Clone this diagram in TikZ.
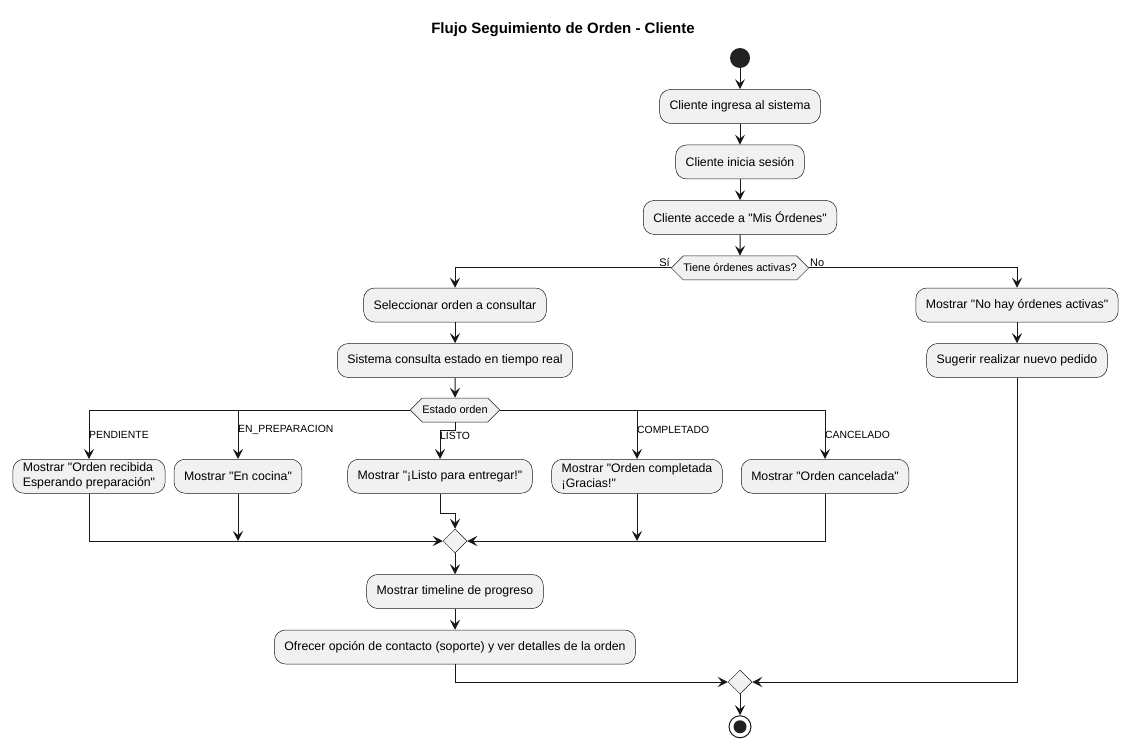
\documentclass[tikz,border=0pt]{standalone}
\usepackage{fontspec}
\setmainfont{Liberation Sans}[Ligatures=TeXOff]
\usetikzlibrary{arrows.meta,positioning,shapes.geometric,shapes.symbols}
\definecolor{boxfill}{HTML}{F1F1F1}
\definecolor{linecol}{HTML}{181818}
\definecolor{dotcol}{HTML}{222222}

\begin{document}
\begin{tikzpicture}[
        x=1pt, y=-1pt,
        node distance=21pt,
        act/.style={draw=linecol, line width=0.5pt, fill=boxfill, rounded corners=11pt,
            minimum height=34pt, inner xsep=10pt, align=left,
            font=\fontsize{12.3}{15}\selectfont},
        choice/.style={signal, signal to=east and west, draw=linecol, line width=0.5pt,
            fill=boxfill, minimum height=24pt, inner xsep=0pt, inner ysep=0pt,
            font=\fontsize{11}{13}\selectfont},
        merge/.style={diamond, draw=linecol, line width=0.5pt, fill=boxfill,
            minimum size=24pt, inner sep=0pt},
        flow/.style={draw=linecol, line width=1pt,
            -{Stealth[length=10pt,width=10pt,inset=4pt]}},
        lbl/.style={font=\fontsize{10.4}{12}\selectfont, inner sep=1pt}
    ]
    \useasboundingbox[fill=white] (0,0) rectangle (1127,746);

    \node[font=\bfseries\fontsize{15}{17}\selectfont] (titulo) at (563,30)
        {Flujo Seguimiento de Orden - Cliente};

    % tramo comun
    \node[circle, fill=dotcol, minimum size=20pt, inner sep=0pt] (inicio) at (740,58) {};
    \node[act, below=of inicio] (ingresa) {Cliente ingresa al sistema};
    \node[act, below=of ingresa] (sesion) {Cliente inicia sesión};
    \node[act, below=of sesion] (accede) {Cliente accede a "Mis Órdenes"};
    \node[choice, below=of accede] (activas) {Tiene órdenes activas?};

    % rama si
    \node[act] (selec) at (455,305) {Seleccionar orden a consultar};
    \node[act, below=of selec] (consulta) {Sistema consulta estado en tiempo real};
    \node[choice] (estado) at (455,410) {Estado orden};

    \node[act, anchor=north] (pend) at (89,459)
        {Mostrar "Orden recibida\\Esperando preparación"};
    \node[act, anchor=north] (cocina) at (238,459) {Mostrar "En cocina"};
    \node[act, anchor=north] (listo) at (440,459) {Mostrar "¡Listo para entregar!"};
    \node[act, anchor=north] (compl) at (637,459)
        {Mostrar "Orden completada\\¡Gracias!"};
    \node[act, anchor=north] (cancel) at (825,459) {Mostrar "Orden cancelada"};

    \node[merge] (union) at (455,541) {};
    \node[act, below=of union] (linea) {Mostrar timeline de progreso};
    \node[act, below=of linea] (contacto)
        {Ofrecer opción de contacto (soporte) y ver detalles de la orden};

    % rama no
    \node[act] (nohay) at (1017,305) {Mostrar "No hay órdenes activas"};
    \node[act, below=of nohay] (sugerir) {Sugerir realizar nuevo pedido};

    \node[merge] (final) at (740,682) {};
    \node[circle, draw=linecol, line width=1pt, fill=white, minimum size=22pt,
        inner sep=0pt, below=of final,
        path picture={\fill[dotcol] (path picture bounding box.center) circle (6.5pt);}]
        (fin) {};

    \coordinate (quiebre1) at (455,430);
    \coordinate (quiebre2) at (455,513);

    % conectores
    \draw[flow] (inicio) -- (ingresa);
    \draw[flow] (ingresa) -- (sesion);
    \draw[flow] (sesion) -- (accede);
    \draw[flow] (accede) -- (activas);
    \draw[flow] (activas.west) -| (selec);
    \draw[flow] (activas.east) -| (nohay);
    \node[lbl, font=\fontsize{11}{13}\selectfont, above left=0pt and 0pt of activas.west] (si) {Sí};
    \node[lbl, font=\fontsize{11}{13}\selectfont, above right=0pt and 0pt of activas.east] (no) {No};

    \draw[flow] (selec) -- (consulta);
    \draw[flow] (consulta) -- (estado);
    \draw[flow] (estado.west) -| (pend);
    \draw[flow] (estado.west) -| (cocina);
    \draw[flow] (estado.south) -- (quiebre1) -| (listo);
    \draw[flow] (estado.east) -| (compl);
    \draw[flow] (estado.east) -| (cancel);
    \node[lbl, anchor=west] (lpend) at (88,435) {PENDIENTE};
    \node[lbl, anchor=west] (lcocina) at (237,430) {EN\_PREPARACION};
    \node[lbl, anchor=west] (llisto) at (439,436) {LISTO};
    \node[lbl, anchor=west] (lcompl) at (636,430) {COMPLETADO};
    \node[lbl, anchor=west] (lcancel) at (824,435) {CANCELADO};

    \draw[flow] (pend.south) |- (union.west);
    \draw[flow] (cocina.south) -- (cocina.south |- union);
    \draw[flow] (listo.south) |- (quiebre2) -- (union);
    \draw[flow] (compl.south) -- (compl.south |- union);
    \draw[flow] (cancel.south) |- (union.east);

    \draw[flow] (union) -- (linea);
    \draw[flow] (linea) -- (contacto);
    \draw[flow] (nohay) -- (sugerir);

    \draw[flow] (contacto.south) |- (final.west);
    \draw[flow] (sugerir.south) |- (final.east);
    \draw[flow] (final) -- (fin);
\end{tikzpicture}
\end{document}
